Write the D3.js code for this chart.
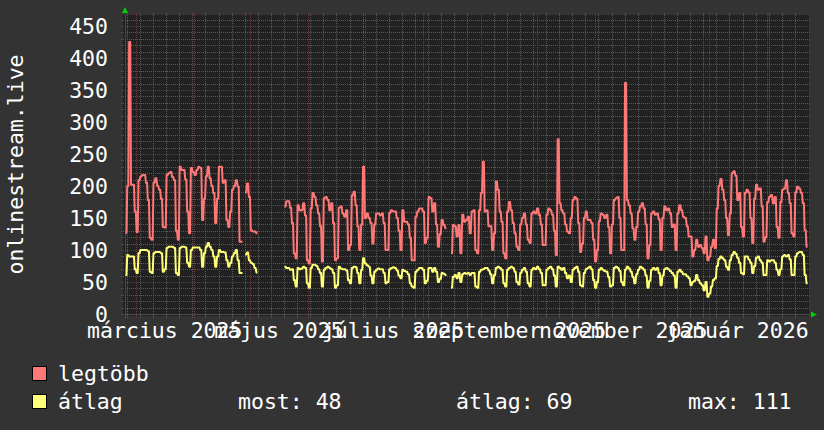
<!DOCTYPE html>
<html><head><meta charset="utf-8">
<script src="https://cdn.jsdelivr.net/npm/d3@7"></script>
<style>html,body{margin:0;padding:0;background:#333333;}svg{display:block;}</style>
</head><body>
<svg id="chart" width="824" height="430"></svg>
<script>
// ---- data ----
const startDate = new Date(2025, 1, 23);
const endDate = new Date(2026, 1, 23);
const seriesNames = ["legtöbb", "átlag"];
// daily maximum ("legtöbb"); null = no data
const maxValues = [127,
200,425,202,202,160,128,209,
215,217,217,205,178,119,116,
205,212,200,194,180,136,135,
217,220,222,214,209,130,116,
230,225,225,210,160,126,228,
222,217,225,230,228,147,180,
215,230,212,200,189,142,180,
230,230,205,209,147,136,160,
194,200,209,199,113,113,null,
190,204,183,131,129,129,126,
null,null,null,null,null,null,null,
null,null,null,null,null,null,null,
168,176,176,166,142,95,87,
170,162,162,173,154,84,79,
165,189,183,170,157,137,82,
181,183,178,162,173,142,84,
87,166,168,157,152,162,100,
108,185,191,170,137,100,140,
230,150,157,150,142,110,140,
157,157,154,157,142,100,100,
158,162,160,160,150,130,100,
162,144,144,140,119,84,84,
152,160,165,165,160,111,119,
183,181,160,173,140,105,125,
147,139,134,null,null,95,139,
137,121,139,95,155,144,147,
152,126,160,162,100,95,162,
189,238,160,162,137,137,100,
126,207,194,160,144,95,87,
160,175,162,142,126,105,100,
140,150,157,140,116,111,157,
160,157,165,155,140,108,108,
155,165,162,155,130,92,273,
173,162,157,140,129,126,150,
178,183,180,142,97,110,150,
160,147,147,142,116,82,100,
145,157,155,150,155,136,95,
140,178,181,183,150,100,100,
361,178,170,157,134,116,136,
160,168,173,165,140,87,108,
157,160,155,157,148,100,150,
168,162,165,157,136,140,100,
157,170,162,152,150,137,121,
121,90,100,116,105,108,103,
95,121,84,90,105,116,103,
165,200,211,194,178,150,123,
157,220,223,216,178,189,136,
121,189,194,190,150,111,180,
202,194,196,168,113,120,175,
183,186,173,183,136,119,175,
194,196,209,189,173,126,121,
190,199,196,189,173,131,105];
// daily average ("átlag")
const avgValues = [61,
92,90,90,90,70,64,95,
100,100,100,100,98,66,64,
95,97,97,97,95,66,70,
103,105,105,105,103,64,61,
103,105,105,104,80,74,100,
104,104,104,104,100,74,95,
105,111,105,100,90,74,90,
100,97,97,96,84,74,80,
90,95,100,84,64,64,null,
93,96,84,80,78,72,65,
null,null,null,null,null,null,null,
null,null,null,null,null,null,null,
74,72,72,69,70,53,43,
72,70,71,74,72,48,41,
72,77,77,75,70,64,43,
69,72,74,72,70,64,41,
45,74,71,70,70,68,53,
48,72,74,73,64,48,69,
87,79,76,74,60,48,66,
69,71,70,70,64,48,50,
70,72,73,72,68,60,56,
69,67,66,62,48,43,41,
66,69,72,72,69,48,52,
72,72,66,72,66,50,55,
64,63,61,null,null,41,58,
61,56,64,50,62,64,63,
64,61,64,64,43,41,66,
69,70,72,72,68,62,48,
61,72,74,72,69,48,43,
69,72,74,72,66,50,46,
64,69,72,66,48,43,69,
72,70,74,70,64,45,45,
69,72,74,70,60,43,74,
72,69,72,64,56,60,50,
69,72,74,66,45,43,64,
70,72,74,70,53,41,50,
69,72,69,67,66,58,43,
45,72,74,72,67,50,45,
69,74,71,66,58,48,62,
69,74,72,69,60,41,52,
69,72,69,72,64,45,60,
70,72,70,67,64,60,41,
66,69,66,62,62,59,56,
45,50,52,61,53,48,45,
37,50,27,32,43,53,56,
75,86,90,87,84,74,69,
84,92,97,94,88,80,64,
62,90,90,85,80,64,75,
88,90,84,80,61,61,84,
82,84,84,80,69,61,70,
90,92,90,92,85,61,61,
90,95,97,97,92,61,48];
const yTickValues = [0,50,100,150,200,250,300,350,400,450];
const xLabelDates = [new Date(2025,2,16), new Date(2025,4,16), new Date(2025,6,16), new Date(2025,8,16), new Date(2025,10,16), new Date(2026,0,16)];
const xLabels = ["március 2025","május 2025","július 2025","szeptember 2025","november 2025","január 2026"];
const yTitle = "onlinestream.live";
const statLabels = ["most: 48", "átlag: 69", "max: 111"];

// ---- layout / style ----
const FONT = "'DejaVu Sans Mono', monospace";
const FS = 21.5;
const colors = ["#ff7878", "#ffff78"];
const svg = d3.select("#chart");
svg.append("rect").attr("width", 824).attr("height", 430).attr("fill", "#333333");

const x = d3.scaleTime().domain([startDate, endDate]).range([125, 808]);
const y = d3.scaleLinear().domain([0, 467.2]).range([314, 15]);
const plotTop = 15, plotBot = 316, plotL = 123, plotR = 809;

svg.append("rect").attr("x", plotL).attr("y", plotTop).attr("width", plotR - plotL).attr("height", plotBot - plotTop).attr("fill", "#212121");

const grid = svg.append("g");
const px = v => Math.round(v) + 0.5;
// minor horizontal grid every 10
d3.range(0, 461, 10).filter(v => v % 50 !== 0).forEach(v => {
  grid.append("line").attr("x1", 121).attr("x2", 811).attr("y1", px(y(v))).attr("y2", px(y(v)))
    .attr("stroke", "#5a5a5a").attr("stroke-dasharray", "1,1");
});
// minor vertical grid: weeks (Mondays)
d3.timeMonday.range(startDate, endDate).forEach(d => {
  grid.append("line").attr("x1", px(x(d))).attr("x2", px(x(d))).attr("y1", 13).attr("y2", 318)
    .attr("stroke", "#5a5a5a").attr("stroke-dasharray", "1,1");
});
// major horizontal grid
yTickValues.forEach(v => {
  grid.append("line").attr("x1", 121).attr("x2", 811).attr("y1", px(y(v))).attr("y2", px(y(v)))
    .attr("stroke", "#7a3636").attr("stroke-dasharray", "1,1");
});
// major vertical grid: months
d3.timeMonth.range(startDate, endDate).forEach(d => {
  grid.append("line").attr("x1", px(x(d))).attr("x2", px(x(d))).attr("y1", 13).attr("y2", 318)
    .attr("stroke", "#7a3636").attr("stroke-dasharray", "1,1");
});

// axes lines + arrows
svg.append("line").attr("x1", 121).attr("x2", 811).attr("y1", px(y(0))).attr("y2", px(y(0))).attr("stroke", "#4a4a4a");
svg.append("line").attr("x1", px(125)).attr("x2", px(125)).attr("y1", 318).attr("y2", 12).attr("stroke", "#4a4a4a");
svg.append("path").attr("d", "M122,13 L128,13 L125,7 Z").attr("fill", "#00d000");
svg.append("path").attr("d", "M811,311.5 L811,317.5 L817,314.5 Z").attr("fill", "#00d000");

// data lines: each day holds its value over the middle of its slot
const days = d3.timeDays(startDate, endDate);
function dayPoints(vals) {
  const pts = [];
  days.forEach((d, i) => {
    const v = vals[i];
    if (v == null) { pts.push({t: d, v: null}); return; }
    pts.push({t: d3.timeHour.offset(d, 5), v: v});
    pts.push({t: d3.timeHour.offset(d, 19), v: v});
  });
  return pts;
}
const line = d3.line().defined(p => p.v != null).x(p => x(p.t)).y(p => y(p.v));
[maxValues, avgValues].forEach((vals, k) => {
  svg.append("path").attr("d", line(dayPoints(vals))).attr("fill", "none")
    .attr("stroke", colors[k]).attr("stroke-width", 2).attr("stroke-linejoin", "round");
});

// y axis labels
const yAxis = d3.axisLeft(y).tickValues(yTickValues).tickSize(0).tickPadding(0);
const yg = svg.append("g").attr("transform", "translate(108,0)").call(yAxis);
yg.select(".domain").remove();
yg.selectAll("text").attr("fill", "#ffffff").style("font-family", FONT).style("font-size", FS + "px").attr("dy", "0.36em").attr("x", 0);

// x axis labels
const xAxis = d3.axisBottom(x).tickValues(xLabelDates).tickFormat((d, i) => xLabels[i]).tickSize(0).tickPadding(0);
const xg = svg.append("g").attr("transform", "translate(0,322)").call(xAxis);
xg.select(".domain").remove();
xg.selectAll("text").attr("fill", "#ffffff").style("font-family", FONT).style("font-size", FS + "px").attr("dy", "0.76em").attr("y", 0);

// y title
svg.append("text").attr("transform", "translate(15,164.5) rotate(-90)").attr("text-anchor", "middle")
  .attr("dominant-baseline", "central").attr("fill", "#ffffff").style("font-family", FONT).style("font-size", FS + "px").text(yTitle);

// legend
const legRows = [366, 394];
seriesNames.forEach((n, k) => {
  svg.append("rect").attr("x", 32.5).attr("y", legRows[k] + 0.5).attr("width", 14).attr("height", 14)
    .attr("fill", colors[k]).attr("stroke", "#000").attr("stroke-width", 1);
  svg.append("text").attr("x", 58).attr("y", legRows[k] + 15).attr("fill", "#fff")
    .style("font-family", FONT).style("font-size", FS + "px").text(n);
});
const statX = [238, 456, 688];
statLabels.forEach((s, i) => {
  svg.append("text").attr("x", statX[i]).attr("y", legRows[1] + 15).attr("fill", "#fff")
    .style("font-family", FONT).style("font-size", FS + "px").text(s);
});
</script>
</body></html>
